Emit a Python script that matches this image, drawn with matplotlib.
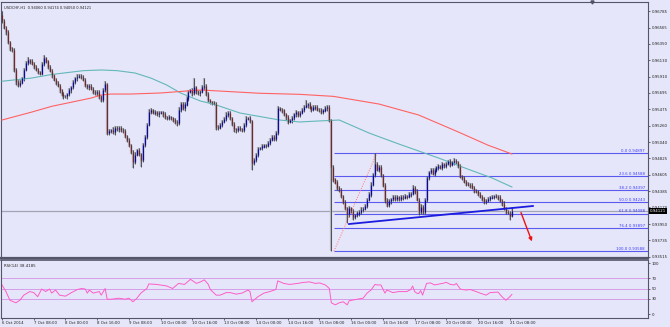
import matplotlib.pyplot as plt
import matplotlib.transforms as mtransforms

# ---- data (USDCHF H1, 6 Oct - 21 Oct 2014) ----
first_open = 0.9673
closes = [
    0.9665, 0.9656, 0.9650, 0.9637, 0.9628, 0.9626, 0.9600, 0.9584, 0.9580, 0.9583,
    0.9589, 0.9600, 0.9609, 0.9613, 0.9611, 0.9608, 0.9604, 0.9600, 0.9597, 0.9595,
    0.9608, 0.9615, 0.9611, 0.9604, 0.9599, 0.9593, 0.9587, 0.9583, 0.9579, 0.9573,
    0.9568, 0.9565, 0.9565, 0.9568, 0.9573, 0.9577, 0.9584, 0.9589, 0.9591, 0.9592,
    0.9591, 0.9587, 0.9580, 0.9577, 0.9579, 0.9575, 0.9571, 0.9569, 0.9571, 0.9565,
    0.9560, 0.9573, 0.9581, 0.9516, 0.9519, 0.9520, 0.9517, 0.9523, 0.9521, 0.9523,
    0.9520, 0.9519, 0.9512, 0.9507, 0.9500, 0.9491, 0.9478, 0.9487, 0.9493, 0.9488,
    0.9480, 0.9500, 0.9511, 0.9527, 0.9544, 0.9546, 0.9543, 0.9544, 0.9541, 0.9543,
    0.9544, 0.9541, 0.9537, 0.9536, 0.9537, 0.9536, 0.9533, 0.9531, 0.9529, 0.9547,
    0.9555, 0.9549, 0.9554, 0.9562, 0.9571, 0.9573, 0.9569, 0.9577, 0.9571, 0.9569,
    0.9571, 0.9577, 0.9579, 0.9568, 0.9560, 0.9557, 0.9556, 0.9555, 0.9524, 0.9523,
    0.9527, 0.9531, 0.9535, 0.9540, 0.9543, 0.9536, 0.9528, 0.9521, 0.9520, 0.9523,
    0.9521, 0.9520, 0.9527, 0.9535, 0.9536, 0.9532, 0.9476, 0.9480, 0.9487, 0.9495,
    0.9496, 0.9498, 0.9500, 0.9499, 0.9503, 0.9507, 0.9511, 0.9508, 0.9516, 0.9549,
    0.9547, 0.9546, 0.9541, 0.9537, 0.9531, 0.9533, 0.9536, 0.9541, 0.9544, 0.9540,
    0.9543, 0.9547, 0.9551, 0.9553, 0.9554, 0.9550, 0.9547, 0.9550, 0.9551, 0.9547,
    0.9547, 0.9544, 0.9546, 0.9549, 0.9551, 0.9533, 0.9471, 0.9454, 0.9450, 0.9443,
    0.9440, 0.9432, 0.9424, 0.9416, 0.9408, 0.9416, 0.9412, 0.9405, 0.9407, 0.9409,
    0.9411, 0.9414, 0.9415, 0.9419, 0.9427, 0.9434, 0.9447, 0.9460, 0.9474, 0.9467,
    0.9470, 0.9460, 0.9447, 0.9427, 0.9420, 0.9425, 0.9428, 0.9431, 0.9428, 0.9430,
    0.9428, 0.9431, 0.9430, 0.9432, 0.9431, 0.9434, 0.9435, 0.9443, 0.9438, 0.9427,
    0.9411, 0.9418, 0.9411, 0.9427, 0.9456, 0.9464, 0.9467, 0.9462, 0.9466, 0.9470,
    0.9472, 0.9470, 0.9474, 0.9472, 0.9475, 0.9478, 0.9474, 0.9477, 0.9479, 0.9477,
    0.9472, 0.9458, 0.9456, 0.9451, 0.9448, 0.9447, 0.9446, 0.9443, 0.9439, 0.9438,
    0.9435, 0.9431, 0.9428, 0.9424, 0.9426, 0.9428, 0.9430, 0.9431, 0.9432, 0.9431,
    0.9430, 0.9426, 0.9422, 0.9415, 0.9411, 0.9410, 0.9406, 0.94121,
]
# wick lengths above / below the body, in pips
hi_ext = [
    5, 3, 2, 3, 2, 2, 3, 2, 3, 4,  2, 3, 3, 4, 2, 3, 2, 2, 3, 2,
    3, 5, 2, 2, 3, 2, 2, 3, 2, 2,  2, 3, 2, 2, 3, 2, 3, 2, 4, 3,
    2, 2, 3, 2, 3, 2, 2, 3, 2, 3,  2, 3, 4, 2, 3, 2, 4, 2, 3, 3,
    2, 3, 2, 2, 3, 2, 3, 4, 2, 3,  2, 3, 2, 3, 4, 3, 2, 3, 2, 3,
    2, 2, 3, 2, 3, 2, 2, 3, 2, 4,  3, 2, 3, 4, 3, 2, 3, 12, 2, 3,
    2, 3, 11, 2, 3, 2, 2, 3, 2, 3,  2, 3, 2, 4, 3, 2, 2, 3, 2, 2,
    3, 2, 3, 4, 2, 3, 2, 3, 2, 3,  2, 3, 2, 2, 3, 2, 3, 2, 3, 3,
    2, 3, 2, 2, 3, 2, 3, 2, 3, 2,  3, 2, 3, 7, 2, 3, 2, 3, 2, 3,
    2, 3, 2, 3, 2, 3, 2, 3, 2, 3,  2, 3, 2, 3, 2, 3, 2, 3, 2, 3,
    2, 3, 2, 3, 2, 3, 4, 3, 16, 3,  4, 3, 2, 3, 2, 3, 2, 3, 2, 3,
    2, 3, 2, 3, 2, 3, 3, 4, 2, 3,  2, 3, 2, 3, 3, 2, 3, 2, 3, 2,
    3, 2, 3, 2, 3, 2, 3, 2, 4, 3,  2, 3, 2, 3, 2, 3, 2, 3, 2, 3,
    2, 3, 2, 3, 2, 3, 2, 3, 2, 3,  2, 3, 2, 3, 2, 3, 2, 5,
]
lo_ext = [
    3, 2, 3, 2, 3, 2, 3, 4, 3, 2,  2, 3, 2, 2, 3, 2, 3, 2, 3, 2,
    2, 3, 2, 3, 2, 3, 2, 3, 2, 3,  2, 3, 2, 3, 2, 3, 2, 2, 3, 2,
    3, 2, 3, 2, 3, 2, 3, 2, 3, 4,  3, 2, 2, 3, 2, 3, 2, 3, 2, 3,
    2, 3, 2, 3, 2, 3, 8, 3, 2, 3,  9, 3, 2, 3, 2, 3, 2, 3, 2, 3,
    2, 3, 2, 3, 2, 3, 2, 3, 3, 2,  3, 2, 3, 2, 3, 2, 3, 2, 3, 2,
    3, 2, 3, 2, 3, 2, 3, 2, 4, 3,  2, 3, 2, 3, 2, 3, 2, 3, 4, 3,
    2, 3, 2, 3, 2, 3, 9, 3, 2, 3,  2, 3, 2, 3, 2, 3, 2, 3, 2, 3,
    2, 3, 2, 3, 3, 2, 3, 2, 3, 2,  3, 2, 3, 2, 3, 2, 3, 2, 3, 2,
    3, 2, 3, 2, 3, 2, 112, 3, 2, 3,  2, 3, 2, 3, 12, 3, 2, 5, 3, 2,
    3, 2, 3, 2, 3, 2, 3, 2, 3, 2,  3, 2, 3, 4, 3, 2, 3, 2, 3, 2,
    3, 2, 3, 2, 3, 2, 3, 2, 3, 2,  4, 3, 3, 2, 3, 2, 3, 2, 3, 2,
    3, 2, 3, 2, 3, 2, 3, 2, 3, 2,  3, 2, 3, 2, 3, 2, 3, 2, 3, 2,
    3, 2, 3, 2, 3, 2, 3, 2, 3, 2,  3, 2, 3, 2, 3, 2, 6, 1,
]

# moving averages (sampled along the curves)
ma_fast_bar = [0, 15, 25, 41, 50, 58, 67, 75, 83, 90, 100, 107, 120, 140, 150, 160, 170, 185, 200, 220, 236, 247, 257]
ma_fast_val = [0.95850, 0.95893, 0.95940, 0.95991, 0.96000, 0.95991, 0.95960, 0.95893, 0.95800, 0.95694, 0.95587,
               0.95543, 0.95427, 0.95334, 0.95308, 0.95322, 0.95334, 0.95161, 0.95015, 0.94829, 0.94669, 0.94563, 0.94443]
ma_slow_bar = [0, 15, 25, 45, 50, 55, 65, 80, 100, 115, 130, 150, 167, 190, 210, 230, 245, 257]
ma_slow_val = [0.95334, 0.95440, 0.95516, 0.95627, 0.95667, 0.95680, 0.95680, 0.95694, 0.95734, 0.95712, 0.95690,
               0.95676, 0.95649, 0.95547, 0.95401, 0.95175, 0.94999, 0.94882]

# fibonacci retracement
fib_levels = ['0.0', '23.6', '38.2', '50.0', '61.8', '76.4', '100.0']
fib_prices = [0.94897, 0.94588, 0.94397, 0.94243, 0.94088, 0.93897, 0.93588]
fib_start = 167.3
fib_swing_bar = [167.3, 189.0]
fib_swing_val = [0.93588, 0.94897]

trend_bar = [174.9, 267.6]
trend_val = [0.93950, 0.94190]
arrow_bar = [261.1, 267.6]
arrow_val = [0.94137, 0.93684]

last_price = 0.94121

price_ticks = [0.96785, 0.96565, 0.96350, 0.96130, 0.95910, 0.95695, 0.95475, 0.95260,
               0.95040, 0.94825, 0.94605, 0.94385, 0.94170, 0.93950, 0.93735, 0.93515]

# RSI(14)
rsi_bar = [0, 2, 4, 7, 9, 11, 14, 16, 18, 20, 22, 24, 25, 27, 29, 32, 35, 38, 40, 42,
           43, 44, 46, 49, 50, 52, 53, 55, 59, 62, 64, 66, 68, 70, 73, 74, 78, 83, 86, 89,
           92, 95, 98, 100, 102, 104, 105, 108, 110, 113, 115, 118, 121, 124, 125, 126, 129, 132, 135, 138,
           139, 142, 145, 149, 152, 155, 158, 160, 163, 165, 166, 168, 170, 172, 174, 175, 179, 182, 184, 186,
           188, 189, 191, 193, 194, 197, 200, 204, 206, 207, 208, 209, 210, 211, 212, 214, 216, 218, 222, 224,
           226, 228, 229, 231, 232, 234, 236, 239, 241, 244, 246, 250, 252, 254, 256, 257]
rsi_val = [57, 44, 27, 22, 27, 37, 44, 42, 34, 49, 44, 49, 41, 47, 37, 35, 42, 48, 50, 49,
           41, 47, 41, 44, 37, 50, 29, 29, 31, 29, 31, 24, 31, 41, 50, 59, 58, 55, 50, 60,
           58, 68, 60, 63, 67, 58, 48, 37, 37, 42, 42, 39, 41, 47, 44, 24, 34, 41, 44, 48,
           65, 60, 58, 60, 62, 63, 60, 61, 57, 50, 22, 18, 22, 24, 18, 26, 29, 31, 41, 47,
           58, 57, 57, 41, 47, 42, 44, 44, 48, 55, 44, 41, 40, 46, 37, 60, 61, 57, 60, 62,
           58, 57, 60, 49, 48, 47, 48, 44, 41, 37, 42, 43, 34, 27, 34, 38.4185]
rsi_levels = [30, 50, 70]

time_ticks = list(range(0, 257, 16))
time_labels = ['6 Oct 2014', '7 Oct 08:00', '8 Oct 00:00', '8 Oct 16:00', '9 Oct 08:00',
               '10 Oct 00:00', '10 Oct 16:00', '13 Oct 08:00', '14 Oct 00:00', '14 Oct 16:00',
               '15 Oct 08:00', '16 Oct 00:00', '16 Oct 16:00', '17 Oct 08:00', '20 Oct 00:00',
               '20 Oct 16:00', '21 Oct 08:00']

# ---- figure ----
bg = '#e6e6fa'
edge = '#55556a'
fs = 2.8
W, H = 670, 327


def box(l, t, r, b):
    return [l / W, 1 - b / H, (r - l) / W, (b - t) / H]


fig = plt.figure(figsize=(W / 100, H / 100), dpi=100)
fig.patch.set_facecolor(bg)
ax = fig.add_axes(box(1, 2, 648, 258))
ax2 = fig.add_axes(box(1, 260, 648, 318))
xmax = -0.5 + 647 / 1.984

for a in (ax, ax2):
    a.set_facecolor(bg)
    a.set_xlim(-0.5, xmax)
    for s in a.spines.values():
        s.set_color(edge)
        s.set_linewidth(0.8)
    a.yaxis.tick_right()
    a.tick_params(axis='y', length=1.5, width=0.5, color='#303030', labelsize=fs, pad=1, labelcolor='#202020')
ax.spines['bottom'].set_linewidth(1.6)
ax2.spines['top'].set_linewidth(1.2)

# candles
n = len(closes)
opens = [first_open] + closes[:-1]
xs = list(range(n))
highs = [max(o, c) + h * 1e-4 for o, c, h in zip(opens, closes, hi_ext)]
lows = [min(o, c) - l * 1e-4 for o, c, l in zip(opens, closes, lo_ext)]
ax.vlines(xs, lows, highs, color='#b4b4c4', lw=1.6, zorder=2)
ax.vlines(xs, lows, highs, color='#2a2a2a', lw=0.5, zorder=3)
body_col = ['#0a0a9a' if c >= o else '#6e2a2a' for o, c in zip(opens, closes)]
ax.vlines(xs, [min(o, c) for o, c in zip(opens, closes)],
          [max(o, c) + 0.00003 for o, c in zip(opens, closes)],
          color=body_col, lw=0.9, zorder=4)

ax.plot(ma_fast_bar, ma_fast_val, color='#62b8b8', lw=0.8, zorder=3)
ax.plot(ma_slow_bar, ma_slow_val, color='#ff6262', lw=0.8, zorder=3)

ax.axhline(last_price, color='#a4a4b4', lw=0.9, zorder=1)

ax.hlines(fib_prices, fib_start, xmax, color='#5a5af0', lw=0.8, zorder=2)
for lv, p in zip(fib_levels, fib_prices):
    ax.text(xmax - 1.5, p + 0.00004, f'{lv} {p:.5f}', ha='right', va='bottom',
            fontsize=fs, color='#3c3cff', zorder=5)
ax.plot(fib_swing_bar, fib_swing_val, ls=(0, (1, 1.5)), color='#ff7070', lw=0.7, zorder=2)

ax.plot(trend_bar, trend_val, color='#1c1ce0', lw=1.3, zorder=5)
ax.annotate('', xy=(arrow_bar[1], arrow_val[1]), xytext=(arrow_bar[0], arrow_val[0]),
            arrowprops=dict(arrowstyle='-|>', color='#ee1111', lw=1.0, mutation_scale=5), zorder=6)

ax.set_ylim(0.934978, 0.969048)
ax.set_yticks(price_ticks)
ax.set_yticklabels([f'{t:.5f}' for t in price_ticks])
ax.set_xticks([])

trans = mtransforms.blended_transform_factory(ax.transAxes, ax.transData)
ax.text(1.003, last_price, f'{last_price:.5f}', transform=trans, fontsize=fs, color='white',
        ha='left', va='center', zorder=7,
        bbox=dict(boxstyle='square,pad=0.25', fc='black', ec='black', lw=0))
ax.text(0.004, 0.985, 'USDCHF,H1  0.94060 0.94174 0.94050 0.94121', transform=ax.transAxes,
        fontsize=2.6, color='#202020', ha='left', va='top')
ax.plot([297.4], [0.969048], marker='v', ms=2.2, color='#505060', clip_on=False, zorder=8)

# RSI panel
ax2.set_ylim(-7.8, 105.9)
ax2.hlines(rsi_levels, -0.5, xmax, colors='#c040d0', linestyles=(0, (1.2, 1.2)), lw=0.6)
ax2.plot(rsi_bar, rsi_val, color='#ff5cc8', lw=0.7)
ax2.set_yticks([0, 30, 50, 70, 100])
ax2.set_yticklabels(['0', '30', '50', '70', '100'])
ax2.text(0.004, 0.93, 'RSI(14) 38.4185', transform=ax2.transAxes, fontsize=fs, color='#202020',
         ha='left', va='top')
ax2.set_xticks(time_ticks)
ax2.set_xticklabels(time_labels, ha='left')
ax2.tick_params(axis='x', length=1.5, width=0.5, color='#303030', labelsize=fs, pad=1, labelcolor='#202020')

fig.savefig('out.png', dpi=100, facecolor=bg)
